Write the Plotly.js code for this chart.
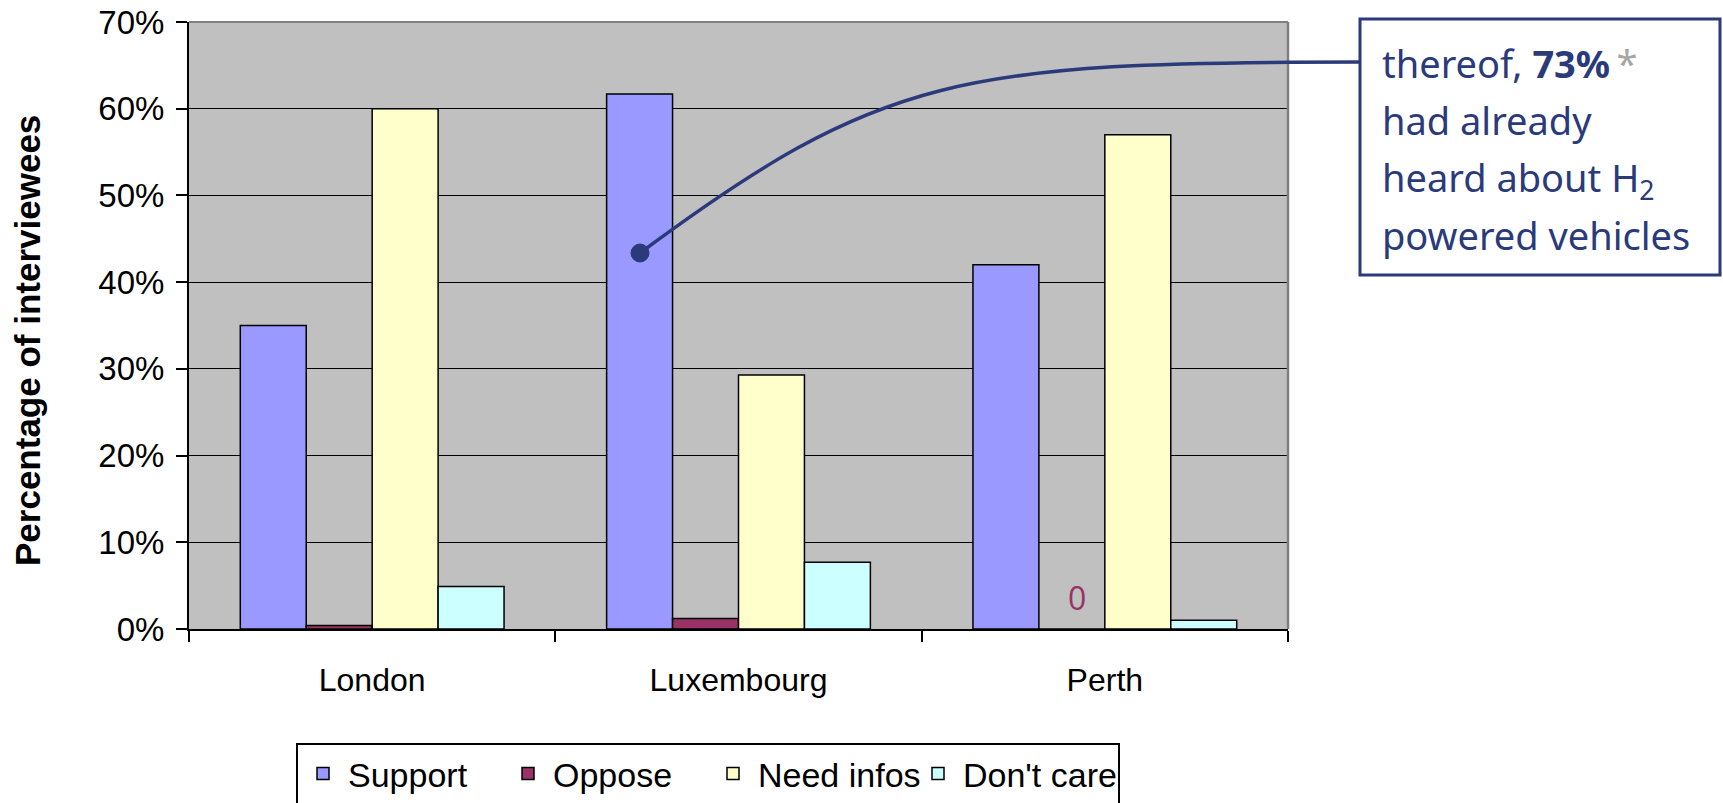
<!DOCTYPE html>
<html>
<head>
<meta charset="utf-8">
<script src="https://cdn.plot.ly/plotly-3.0.1.min.js"></script>
<style>html,body{margin:0;padding:0;background:#fff;}#chart{width:1723px;height:803px;}</style>
</head>
<body>
<div id="chart"></div>
<script>
// ---- data ----
const cities = ['London', 'Luxembourg', 'Perth'];
const support = [35.0, 61.7, 42.0];
const oppose = [0.4, 1.2, 0];
const needInfos = [60.0, 29.3, 57.0];
const dontCare = [4.9, 7.7, 1.0];
const seriesNames = ['Support', 'Oppose', 'Need infos', "Don't care"];
const yTickVals = [0, 10, 20, 30, 40, 50, 60, 70];
const yTickText = ['0%', '10%', '20%', '30%', '40%', '50%', '60%', '70%'];
const calloutLines = [
  'thereof, <b>73%</b><span style="color:#A6A6A6">\u2009*</span>',
  'had already',
  'heard about H<sub>2</sub>',
  'powered vehicles'
];
const zeroLabel = '0';

// ---- style ----
const colors = ['#9999FF', '#993366', '#FFFFCC', '#CCFFFF'];
const navy = '#2A3A7A';
const FW = 1723, FH = 803;
const L = 189, T = 22, W = 1099, H = 607;
const px = x => (x - L) / W;
const py = y => (T + H - y) / H;

const values = [support, oppose, needInfos, dontCare];
const traces = values.map((v, i) => ({
  type: 'bar',
  name: seriesNames[i],
  x: cities,
  y: v,
  marker: {color: colors[i], line: {color: '#000', width: 1.5}},
  hoverinfo: 'x+y+name'
}));

const calloutCenters = [63, 120, 179, 235];
const annotations = calloutLines.map((t, i) => ({
  xref: 'paper', yref: 'paper',
  x: px(1380), y: py(calloutCenters[i]),
  xanchor: 'left', yanchor: 'middle',
  text: t, showarrow: false,
  font: {family: 'Noto Sans', size: 38, color: navy}
}));
annotations.push({
  xref: 'x', yref: 'y', x: 'Perth', y: 0,
  xshift: -28, yshift: 32, xanchor: 'center', yanchor: 'middle',
  text: zeroLabel, showarrow: false,
  font: {family: 'Open Sans', size: 32, color: '#993366'}
});
annotations.push({
  xref: 'paper', yref: 'paper', x: px(27), y: py(341),
  xanchor: 'center', yanchor: 'middle', textangle: -90,
  text: '<b>Percentage of interviewees</b>', showarrow: false,
  font: {family: 'Liberation Sans, Arial', size: 35, color: '#000'}
});

// connector curve & callout box
const p0 = [640, 253], c1 = [880, 75], c2 = [960, 62], p3 = [1360, 62];
const pathStr = 'M' + px(p0[0]) + ',' + py(p0[1]) +
  ' C' + px(c1[0]) + ',' + py(c1[1]) + ' ' + px(c2[0]) + ',' + py(c2[1]) +
  ' ' + px(p3[0]) + ',' + py(p3[1]);
const shapes = [
  {type: 'line', xref: 'paper', yref: 'paper', x0: 0, x1: 1, y0: 1, y1: 1,
   line: {color: '#808080', width: 2}, layer: 'above'},
  {type: 'line', xref: 'paper', yref: 'paper', x0: 1, x1: 1, y0: 0, y1: 1,
   line: {color: '#808080', width: 2.5}, layer: 'above'},
  {type: 'path', xref: 'paper', yref: 'paper', path: pathStr,
   line: {color: navy, width: 3.5}, layer: 'above'},
  {type: 'circle', xref: 'paper', yref: 'paper',
   x0: px(p0[0] - 9), x1: px(p0[0] + 9), y0: py(p0[1] + 9), y1: py(p0[1] - 9),
   fillcolor: navy, line: {color: navy, width: 1}, layer: 'above'},
  {type: 'rect', xref: 'paper', yref: 'paper',
   x0: px(1360), x1: px(1720), y0: py(275), y1: py(19),
   fillcolor: '#fff', line: {color: navy, width: 3}, layer: 'above'}
];

const layout = {
  width: FW, height: FH,
  margin: {l: L, r: FW - L - W, t: T, b: FH - T - H, pad: 0, autoexpand: false},
  paper_bgcolor: '#fff',
  plot_bgcolor: '#C0C0C0',
  barmode: 'group',
  bargap: 0.28,
  bargroupgap: 0,
  font: {family: 'Liberation Sans, Arial', color: '#000'},
  showlegend: true,
  legend: {
    orientation: 'h', xref: 'container', yref: 'container',
    x: 296 / FW, y: 1 - 743 / FH, xanchor: 'left', yanchor: 'top',
    bordercolor: '#000', borderwidth: 2, bgcolor: '#fff',
    font: {family: 'Liberation Sans, Arial', size: 34, color: '#000'},
    itemwidth: 40,
    entrywidth: 150, entrywidthmode: 'pixels',
    traceorder: 'normal'
  },
  xaxis: {
    type: 'category',
    showline: true, linecolor: '#000', linewidth: 2,
    ticks: 'outside', tickson: 'boundaries', ticklen: 11, tickwidth: 2, tickcolor: '#000',
    tickfont: {family: 'Liberation Sans, Arial', size: 32, color: '#000'},
    ticklabelstandoff: 22,
    showgrid: false, zeroline: false, fixedrange: true
  },
  yaxis: {
    range: [0, 70],
    tickmode: 'array', tickvals: yTickVals, ticktext: yTickText,
    showline: true, linecolor: '#000', linewidth: 2,
    ticks: 'outside', ticklen: 11, tickwidth: 2, tickcolor: '#000',
    tickfont: {family: 'Liberation Sans, Arial', size: 33, color: '#000'},
    ticklabelstandoff: 5,
    showgrid: true, gridcolor: '#000', gridwidth: 1,
    zeroline: false, fixedrange: true
  },
  shapes: shapes,
  annotations: annotations
};

Plotly.newPlot('chart', traces, layout, {displayModeBar: false, staticPlot: true});
</script>
</body>
</html>
